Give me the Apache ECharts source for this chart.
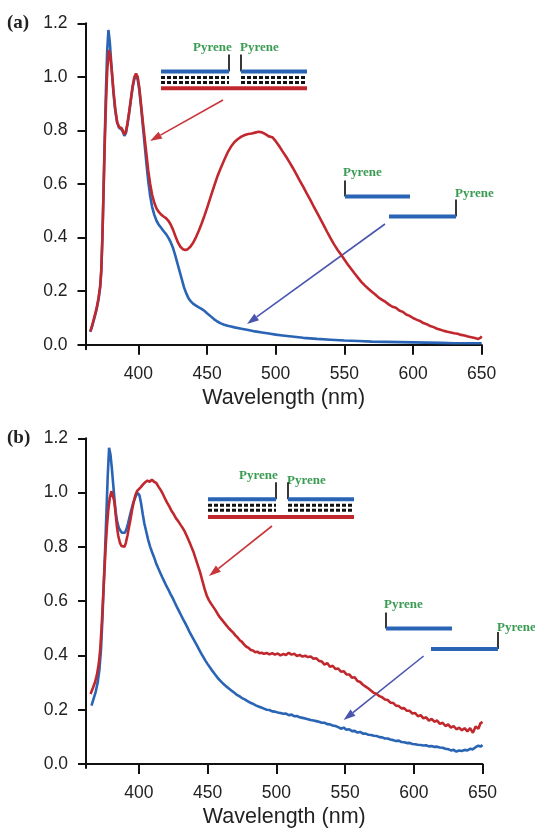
<!DOCTYPE html>
<html>
<head>
<meta charset="utf-8">
<script src="https://cdn.jsdelivr.net/npm/echarts@6.0.0/dist/echarts.min.js"></script>
<style>
html,body{margin:0;padding:0;background:#fff;}
#chart{width:535px;height:829px;}
</style>
</head>
<body>
<div id="chart"></div>
<script>
// ---------- DATA ----------
const xTicks = [400, 450, 500, 550, 600, 650];
const yTicks = [0, 0.2, 0.4, 0.6, 0.8, 1.0, 1.2];
const xTitle = 'Wavelength (nm)';
const panelLabels = ['(a)', '(b)'];

// Panel (a): duplex (red) and single strands (blue)
const redA = [[365.0,0.050],[366.5,0.075],[368.0,0.105],[369.5,0.135],[371.0,0.175],[372.2,0.22],[373.0,0.28],[373.8,0.40],[374.6,0.56],[375.5,0.75],[376.4,0.90],[377.3,1.02],[378.4,1.10],[379.5,1.08],[380.7,1.02],[382.0,0.94],[383.3,0.875],[384.6,0.83],[386.0,0.812],[387.5,0.810],[388.7,0.800],[389.8,0.785],[390.9,0.795],[392.0,0.825],[393.3,0.870],[394.6,0.920],[395.8,0.965],[397.0,0.998],[398.3,1.012],[399.5,1.000],[400.7,0.960],[402.0,0.895],[403.3,0.830],[404.6,0.770],[405.9,0.710],[407.2,0.650],[408.6,0.600],[410.0,0.560],[411.6,0.530],[413.3,0.508],[415.0,0.495],[416.8,0.485],[418.6,0.478],[420.3,0.472],[422.0,0.462],[423.6,0.448],[425.2,0.430],[427.0,0.405],[428.8,0.382],[430.6,0.366],[432.4,0.357],[434.2,0.354],[436.0,0.357],[438.0,0.367],[440.0,0.382],[442.0,0.402],[444.0,0.426],[446.0,0.452],[448.0,0.48],[450.0,0.51],[452.5,0.55],[455.0,0.59],[457.5,0.628],[460.0,0.66],[462.5,0.69],[465.0,0.718],[467.5,0.74],[470.0,0.757],[472.5,0.768],[475.0,0.777],[477.5,0.783],[480.0,0.787],[482.5,0.789],[485.0,0.792],[487.5,0.795],[490.0,0.793],[492.5,0.786],[495.0,0.778],[497.5,0.775],[500.0,0.760],[502.5,0.742],[505.0,0.722],[507.5,0.703],[510.0,0.682],[512.5,0.660],[515.0,0.637],[517.5,0.613],[520.0,0.590],[522.5,0.566],[525.0,0.543],[527.5,0.518],[530.0,0.494],[532.5,0.470],[535.0,0.446],[537.5,0.421],[540.0,0.397],[542.5,0.375],[545.0,0.355],[547.5,0.337],[550.0,0.318],[552.5,0.300],[555.0,0.283],[557.5,0.266],[560.0,0.250],[562.5,0.234],[565.0,0.221],[567.5,0.209],[570.0,0.198],[572.5,0.188],[575.0,0.176],[577.5,0.168],[580.0,0.160],[582.5,0.150],[585.0,0.142],[587.5,0.138],[590.0,0.128],[592.5,0.123],[595.0,0.113],[597.5,0.108],[600.0,0.100],[602.5,0.094],[605.0,0.089],[607.5,0.081],[610.0,0.077],[612.5,0.070],[615.0,0.066],[617.5,0.060],[620.0,0.056],[622.5,0.052],[625.0,0.049],[627.5,0.046],[630.0,0.043],[632.5,0.041],[635.0,0.037],[637.5,0.035],[640.0,0.031],[642.5,0.028],[645.0,0.025],[647.5,0.022],[649.0,0.026],[650.0,0.032]];
const blueA = [[365.0,0.048],[366.5,0.072],[368.0,0.10],[369.5,0.13],[371.0,0.17],[372.2,0.215],[373.0,0.275],[373.8,0.40],[374.6,0.57],[375.5,0.77],[376.4,0.95],[377.3,1.10],[378.2,1.175],[379.2,1.13],[380.4,1.04],[381.7,0.95],[383.0,0.88],[384.5,0.83],[386.0,0.81],[387.5,0.805],[388.7,0.795],[389.8,0.78],[390.9,0.79],[392.0,0.82],[393.3,0.865],[394.6,0.915],[395.8,0.96],[397.0,0.99],[398.3,1.005],[399.5,0.99],[400.7,0.95],[402.0,0.885],[403.3,0.815],[404.6,0.745],[405.9,0.675],[407.2,0.610],[408.6,0.555],[410.0,0.515],[411.6,0.485],[413.3,0.462],[415.0,0.447],[416.8,0.435],[418.6,0.423],[420.3,0.412],[422.0,0.398],[423.6,0.382],[425.2,0.362],[426.8,0.335],[428.4,0.305],[430.0,0.275],[431.6,0.245],[433.2,0.215],[434.8,0.193],[436.4,0.175],[438.2,0.162],[440.0,0.153],[442.0,0.146],[444.0,0.140],[446.0,0.134],[448.0,0.127],[450.0,0.118],[452.5,0.107],[455.0,0.096],[457.5,0.087],[460.0,0.080],[462.5,0.075],[465.0,0.071],[467.5,0.068],[470.0,0.065],[475.0,0.060],[480.0,0.055],[485.0,0.050],[490.0,0.046],[495.0,0.042],[500.0,0.038],[505.0,0.035],[510.0,0.032],[515.0,0.029],[520.0,0.026],[530.0,0.022],[540.0,0.019],[550.0,0.016],[560.0,0.014],[570.0,0.012],[580.0,0.011],[590.0,0.010],[600.0,0.009],[610.0,0.008],[620.0,0.007],[630.0,0.006],[640.0,0.006],[650.0,0.006]];

// Panel (b)
const redB = [[364.8,0.258],[366.5,0.28],[368.0,0.30],[369.5,0.33],[370.8,0.37],[371.8,0.42],[372.8,0.50],[373.8,0.60],[374.8,0.70],[375.8,0.80],[376.8,0.88],[377.8,0.94],[378.8,0.98],[380.0,1.005],[381.0,1.00],[382.0,0.97],[383.0,0.925],[384.0,0.875],[385.0,0.84],[386.2,0.815],[387.4,0.803],[388.5,0.798],[389.5,0.800],[390.5,0.815],[391.6,0.84],[392.7,0.87],[393.8,0.90],[395.0,0.935],[396.2,0.965],[397.4,0.99],[398.6,1.005],[400.0,1.012],[401.4,1.02],[403.0,1.03],[404.6,1.038],[406.2,1.044],[407.8,1.040],[409.4,1.048],[411.0,1.040],[412.6,1.036],[414.2,1.022],[415.8,1.010],[417.4,0.995],[419.0,0.978],[420.6,0.962],[422.2,0.948],[423.8,0.932],[425.4,0.92],[427.0,0.905],[428.6,0.895],[430.2,0.882],[431.8,0.87],[433.4,0.856],[435.0,0.838],[436.6,0.82],[438.2,0.80],[439.8,0.78],[441.4,0.755],[443.0,0.73],[444.6,0.705],[446.2,0.675],[447.8,0.645],[449.4,0.62],[451.0,0.603],[452.6,0.590],[454.2,0.578],[455.8,0.566],[457.4,0.552],[459.0,0.540],[460.6,0.530],[462.2,0.520],[463.8,0.510],[465.4,0.500],[467.0,0.492],[468.6,0.484],[470.2,0.474],[471.8,0.466],[473.4,0.456],[475.0,0.450],[476.6,0.440],[478.2,0.432],[479.8,0.428],[481.4,0.420],[483.0,0.418],[484.6,0.412],[486.2,0.414],[487.8,0.408],[489.4,0.410],[491.0,0.406],[493.0,0.409],[495.0,0.404],[497.0,0.408],[499.0,0.403],[501.0,0.407],[503.0,0.400],[505.0,0.405],[507.0,0.402],[509.0,0.410],[511.0,0.403],[513.0,0.406],[515.0,0.398],[517.0,0.402],[519.0,0.396],[521.0,0.399],[523.0,0.394],[525.0,0.396],[527.0,0.388],[529.0,0.390],[531.0,0.380],[533.0,0.378],[535.0,0.366],[537.0,0.372],[539.0,0.358],[541.0,0.362],[543.0,0.350],[545.0,0.352],[547.0,0.340],[549.0,0.342],[551.0,0.330],[553.0,0.330],[555.0,0.318],[557.0,0.320],[559.0,0.306],[561.0,0.302],[563.0,0.292],[565.0,0.285],[567.0,0.278],[569.0,0.270],[571.0,0.262],[573.0,0.258],[575.0,0.250],[577.0,0.246],[579.0,0.238],[581.0,0.236],[583.0,0.226],[585.0,0.225],[587.0,0.215],[589.0,0.214],[591.0,0.205],[593.0,0.206],[595.0,0.196],[597.0,0.196],[599.0,0.186],[601.0,0.188],[603.0,0.176],[605.0,0.180],[607.0,0.168],[609.0,0.172],[611.0,0.160],[613.0,0.166],[615.0,0.156],[617.0,0.160],[619.0,0.148],[621.0,0.152],[623.0,0.140],[625.0,0.146],[627.0,0.134],[629.0,0.140],[631.0,0.128],[633.0,0.134],[635.0,0.124],[637.0,0.132],[639.0,0.120],[641.0,0.132],[643.0,0.115],[645.0,0.138],[647.0,0.130],[648.5,0.150],[650.0,0.155]];
const blueB = [[365.5,0.215],[367.0,0.24],[368.5,0.265],[370.0,0.30],[371.3,0.35],[372.4,0.42],[373.4,0.53],[374.4,0.66],[375.4,0.79],[376.4,0.93],[377.3,1.06],[378.3,1.165],[379.3,1.14],[380.3,1.09],[381.3,1.03],[382.3,0.97],[383.3,0.92],[384.3,0.89],[385.4,0.87],[386.5,0.86],[387.6,0.852],[388.7,0.848],[389.8,0.852],[390.9,0.865],[392.0,0.885],[393.2,0.91],[394.4,0.935],[395.6,0.958],[396.8,0.975],[398.0,0.99],[399.2,0.998],[400.4,0.99],[401.6,0.96],[402.8,0.92],[404.0,0.885],[405.4,0.855],[406.8,0.825],[408.2,0.80],[409.6,0.78],[411.0,0.762],[412.5,0.74],[414.0,0.722],[415.5,0.705],[417.0,0.688],[418.5,0.672],[420.0,0.656],[421.5,0.642],[423.0,0.626],[424.5,0.612],[426.0,0.596],[427.5,0.58],[429.0,0.565],[430.5,0.55],[432.0,0.535],[433.5,0.521],[435.0,0.506],[436.5,0.49],[438.0,0.476],[439.5,0.462],[441.0,0.448],[442.5,0.434],[444.0,0.42],[445.5,0.406],[447.0,0.393],[448.5,0.380],[450.0,0.368],[451.5,0.357],[453.0,0.346],[454.5,0.336],[456.0,0.326],[457.5,0.316],[459.0,0.308],[460.5,0.300],[462.0,0.293],[463.5,0.286],[465.0,0.280],[467.0,0.272],[469.0,0.264],[471.0,0.256],[473.0,0.250],[475.0,0.243],[477.0,0.238],[479.0,0.232],[481.0,0.226],[483.0,0.222],[485.0,0.216],[487.0,0.212],[489.0,0.208],[491.0,0.204],[493.0,0.200],[495.0,0.199],[497.0,0.194],[499.0,0.193],[501.0,0.190],[503.0,0.188],[505.0,0.185],[507.0,0.186],[509.0,0.180],[511.0,0.182],[513.0,0.176],[515.0,0.177],[517.0,0.172],[519.0,0.170],[521.0,0.168],[523.0,0.165],[525.0,0.162],[527.0,0.160],[529.0,0.158],[531.0,0.156],[533.0,0.152],[535.0,0.152],[537.0,0.147],[539.0,0.146],[541.0,0.142],[543.0,0.140],[545.0,0.136],[547.0,0.130],[549.0,0.134],[551.0,0.126],[553.0,0.128],[555.0,0.121],[557.0,0.122],[559.0,0.116],[561.0,0.118],[563.0,0.112],[565.0,0.112],[567.0,0.108],[569.0,0.107],[571.0,0.104],[573.0,0.103],[575.0,0.099],[577.0,0.098],[579.0,0.094],[581.0,0.094],[583.0,0.090],[585.0,0.088],[587.0,0.085],[589.0,0.086],[591.0,0.081],[593.0,0.080],[595.0,0.077],[597.0,0.078],[599.0,0.074],[601.0,0.073],[603.0,0.071],[605.0,0.070],[607.0,0.068],[609.0,0.069],[611.0,0.065],[613.0,0.066],[615.0,0.063],[617.0,0.064],[619.0,0.061],[621.0,0.060],[623.0,0.056],[625.0,0.055],[627.0,0.050],[629.0,0.052],[631.0,0.046],[633.0,0.050],[635.0,0.048],[637.0,0.052],[639.0,0.050],[641.0,0.056],[643.0,0.054],[645.0,0.062],[647.0,0.068],[648.5,0.064],[650.0,0.070]];

// ---------- STYLE ----------
const RED = '#c1282e', BLUE = '#2a64b4', GREEN = '#3a9c52', INK = '#111';
const FONT = '"Liberation Sans", Arial, sans-serif';
const SERIF = '"Liberation Serif", "Times New Roman", serif';

const chart = echarts.init(document.getElementById('chart'), null, {renderer: 'canvas'});

function xAxisFor(gi, minX) {
  return {
    type: 'value', gridIndex: gi, min: minX, max: 650,
    axisLine: {show: true, lineStyle: {color: INK, width: 2}},
    axisTick: {show: true, length: 10, lineStyle: {color: INK, width: 2}, customValues: xTicks},
    axisLabel: {color: '#222', fontSize: 17.5, fontFamily: FONT, margin: 16, customValues: xTicks},
    splitLine: {show: false},
    name: xTitle, nameLocation: 'middle', nameGap: 38,
    nameTextStyle: {color: '#222', fontSize: 21.5, fontFamily: FONT}
  };
}
function yAxisFor(gi, minY) {
  return {
    type: 'value', gridIndex: gi, min: minY, max: 1.2,
    axisLine: {show: true, lineStyle: {color: INK, width: 2}},
    axisTick: {show: true, length: 8, lineStyle: {color: INK, width: 2}, customValues: yTicks},
    axisLabel: {color: '#222', fontSize: 17.5, fontFamily: FONT, margin: 18,
      customValues: yTicks, formatter: v => v.toFixed(1)},
    splitLine: {show: false}
  };
}
function lineSeries(data, color, gi, z) {
  return {type: 'line', data: data, xAxisIndex: gi, yAxisIndex: gi, showSymbol: false,
    symbol: 'none', lineStyle: {color: color, width: 2.6}, itemStyle: {color: color},
    z: z, animation: false};
}

// ---------- ANNOTATIONS ----------
function arrow(x1, y1, x2, y2, color) {
  const a = Math.atan2(y2 - y1, x2 - x1), L = 12, W = 4;
  const bx = x2 - L * Math.cos(a), by = y2 - L * Math.sin(a);
  const px = -Math.sin(a) * W, py = Math.cos(a) * W;
  return [
    {type: 'line', shape: {x1: x1, y1: y1, x2: bx, y2: by}, style: {stroke: color, lineWidth: 1.6}},
    {type: 'polygon', shape: {points: [[x2, y2], [bx + px, by + py], [bx - px, by - py]]}, style: {fill: color}}
  ];
}
function hline(x1, x2, y, color, w, dash) {
  return {type: 'line', shape: {x1: x1, y1: y, x2: x2, y2: y},
    style: {stroke: color, lineWidth: w, lineDash: dash || null}};
}
function vline(x, y1, y2) {
  return {type: 'line', shape: {x1: x, y1: y1, x2: x, y2: y2}, style: {stroke: '#222', lineWidth: 1.8}};
}
function label(txt, x, y) {
  return {type: 'text', x: x, y: y, style: {text: txt, fill: GREEN, fontSize: 13,
    fontFamily: SERIF, fontWeight: 'bold', align: 'left', verticalAlign: 'middle'}};
}
function duplex(xl1, xl2, xr1, xr2, yBlue, yRed, yTxt1, yTxt2, txt1x) {
  const d = [4, 2];
  return [
    label('Pyrene', txt1x, yTxt1), label('Pyrene', xr1 - 1, yTxt2),
    vline(xl2, yBlue - 17, yBlue), vline(xr1, yBlue - 17, yBlue),
    hline(xl1, xl2, yBlue, BLUE, 4), hline(xr1, xr2, yBlue, BLUE, 4),
    hline(xl1, xl2, yBlue + 6, '#111', 3, d), hline(xr1, xr2, yBlue + 6, '#111', 3, d),
    hline(xl1, xl2, yBlue + 11, '#111', 3, d), hline(xr1, xr2, yBlue + 11, '#111', 3, d),
    hline(xl1, xr2, yRed, RED, 4)
  ];
}
function singles(s1x1, s1x2, s1y, s2x1, s2x2, s2y, t1y, t2y) {
  return [
    label('Pyrene', s1x1 - 2, t1y), vline(s1x1, s1y - 16, s1y), hline(s1x1, s1x2, s1y, BLUE, 4),
    label('Pyrene', s2x2 - 1, t2y), vline(s2x2, s2y - 17, s2y), hline(s2x1, s2x2, s2y, BLUE, 4)
  ];
}

const graphics = [].concat(
  [{type: 'text', x: 7, y: 23, style: {text: panelLabels[0], fill: '#222', fontSize: 19,
     fontFamily: SERIF, fontWeight: 'bold', align: 'left', verticalAlign: 'middle'}},
   {type: 'text', x: 7, y: 438, style: {text: panelLabels[1], fill: '#222', fontSize: 19,
     fontFamily: SERIF, fontWeight: 'bold', align: 'left', verticalAlign: 'middle'}}],
  duplex(161, 229, 241, 307, 71.5, 88.3, 48, 48, 193),
  singles(345, 410, 196.5, 389, 456, 216.5, 173, 193.5),
  arrow(223, 100, 150, 141, '#c8353a'),
  arrow(385, 224, 247, 324, '#4a55b0'),
  duplex(208, 276, 288, 354, 499.2, 517, 475.5, 480.5, 239),
  singles(386, 452, 628.6, 431, 498, 649, 604.5, 628),
  arrow(272, 526, 209, 576, '#c8353a'),
  arrow(423.6, 656, 343.6, 720, '#4a55b0')
);

const option = {
  backgroundColor: '#fff',
  animation: false,
  grid: [
    {left: 85.5, top: 23.3, width: 396.2, height: 326},
    {left: 86, top: 438.3, width: 396.5, height: 330.7}
  ],
  xAxis: [xAxisFor(0, 361.5), xAxisFor(1, 361.5)],
  yAxis: [yAxisFor(0, -0.0168), yAxisFor(1, -0.0147)],
  series: [
    lineSeries(blueA, BLUE, 0, 2), lineSeries(redA, RED, 0, 3),
    lineSeries(blueB, BLUE, 1, 2), lineSeries(redB, RED, 1, 3)
  ],
  graphic: graphics
};
chart.setOption(option);
</script>
</body>
</html>
